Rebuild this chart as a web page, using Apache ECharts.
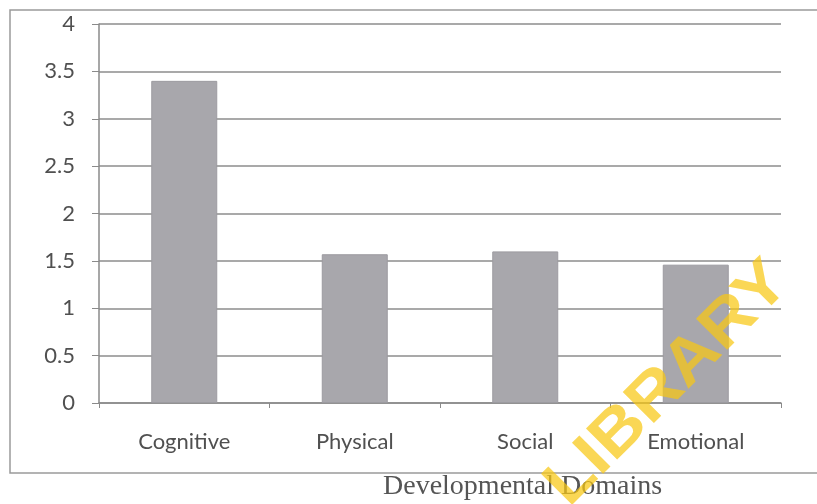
<!DOCTYPE html>
<html><head><meta charset="utf-8">
<script src="https://cdn.jsdelivr.net/npm/echarts@6/dist/echarts.min.js"></script>
<style>html,body{margin:0;padding:0;background:#fff}#c{width:817px;height:504px}</style>
</head><body><div id="c"></div>
<script>
const categories = ['Cognitive', 'Physical', 'Social', 'Emotional'];
const values = [3.4, 1.57, 1.6, 1.46];
const yTicks = [0, 0.5, 1, 1.5, 2, 2.5, 3, 3.5, 4];
const xTitle = 'Developmental Domains';
const watermark = 'LIBRARY';

const chart = echarts.init(document.getElementById('c'));
chart.setOption({
  animation: false,
  backgroundColor: '#fff',
  grid: { left: 99, right: 36, top: 24, bottom: 101 },
  xAxis: {
    type: 'category', data: categories,
    axisLine: { lineStyle: { color: '#8a8a8a', width: 1.5 } },
    axisTick: { show: true, alignWithLabel: false, length: 5, lineStyle: { color: '#8a8a8a' } },
    axisLabel: { color: '#505050', fontFamily: 'Lato', fontSize: 22, margin: 28 }
  },
  yAxis: {
    type: 'value', min: 0, max: 4, interval: 0.5,
    axisLine: { show: true, lineStyle: { color: '#8a8a8a', width: 1.5 } },
    axisTick: { show: true, inside: false, length: 7, lineStyle: { color: '#8a8a8a' } },
    axisLabel: { color: '#505050', fontFamily: 'Lato', fontSize: 22, margin: 24,
      formatter: v => yTicks.includes(v) ? String(v) : '' },
    splitLine: { lineStyle: { color: '#8c8c8c', width: 1.5 } }
  },
  series: [{
    type: 'bar', data: values, barWidth: 66,
    itemStyle: { color: '#a8a7ac', borderColor: '#9c9ba0', borderWidth: 1 }
  }],
  graphic: [
    { type: 'rect', shape: { x: 10, y: 10, width: 820, height: 463 },
      style: { fill: 'none', stroke: '#9a9a9a', lineWidth: 1.5 }, z: -1 },
    { type: 'text', left: 383, top: 473,
      style: { text: xTitle, font: '28px "Liberation Serif"', fill: '#555' } },
    { type: 'text', x: 668, y: 384, rotation: Math.PI / 4, scaleX: 1.12, scaleY: 1,
      style: { text: watermark, font: 'bold 64px "Liberation Sans"', fill: 'rgba(248,200,20,0.72)',
        align: 'center', verticalAlign: 'middle' }, z: 100 }
  ]
});
</script></body></html>
